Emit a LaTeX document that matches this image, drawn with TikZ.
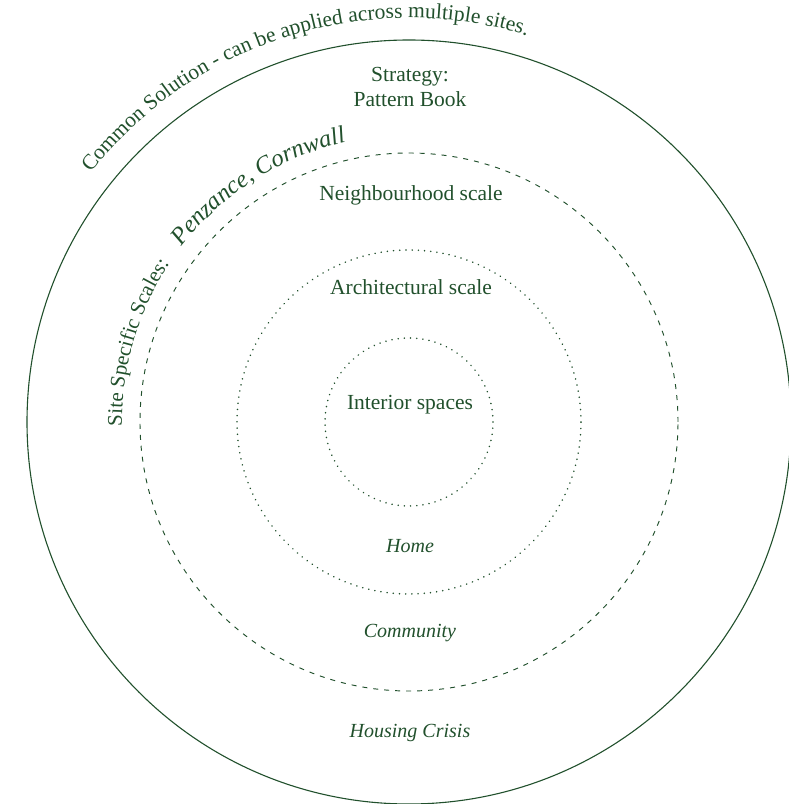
\documentclass[tikz,border=0pt]{standalone}
\usepackage{fontspec}
\setmainfont{Liberation Serif}
\usetikzlibrary{decorations.text}
\definecolor{dg}{RGB}{33,80,44}
\begin{document}
\begin{tikzpicture}[x=1pt,y=1pt,
  ring/.style={circle, draw=dg, inner sep=0pt, outer sep=0pt},
  solidring/.style={ring, line width=1.1pt},
  dashring/.style={ring, line width=0.95pt, dash pattern=on 5pt off 6pt},
  dotring/.style={ring, line width=1.7pt, line cap=round, dash pattern=on 0.01pt off 6.2pt},
  lbl/.style={anchor=base, text=dg, inner sep=0pt, font=\fontsize{21.5}{25}\selectfont},
  ilbl/.style={anchor=base, text=dg, inner sep=0pt, font=\fontsize{20}{24}\selectfont\itshape}
]
\useasboundingbox (0,0) rectangle (789,804);
\coordinate (c) at (409,382);

\node[solidring, minimum size=764pt] (outer) at (c) {};
\node[dashring, minimum size=538pt] (site) at (c) {};
\node[dotring, minimum size=344pt] (arch) at (c) {};
\node[dotring, minimum size=168pt] (inner) at (c) {};

\node[lbl] (strat1) at (410,722) {Strategy:};
\node[lbl] (strat2) at (410,697) {Pattern Book};
\node[lbl] (neigh) at (411,603) {Neighbourhood scale};
\node[lbl] (archl) at (411,509) {Architectural scale};
\node[lbl] (interior) at (410,394) {Interior spaces};
\node[ilbl] (home) at (410,251) {Home};
\node[ilbl] (community) at (410,166) {Community};
\node[ilbl] (crisis) at (410,66) {Housing Crisis};

\path[decorate, decoration={text along path, text align=center,
  text={|\fontsize{21.5}{25}\selectfont\color{dg}|Common Solution - can be applied across multiple sites.}}]
  ([shift={(152:404)}]c) arc[start angle=152, end angle=63, radius=404];

\path[decorate, decoration={text along path, text align=center,
  text={|\fontsize{21}{25}\selectfont\color{dg}|Site Specific Scales:}}]
  ([shift={(193:287)}]c) arc[start angle=193, end angle=134.4, radius=287];

\path[decorate, decoration={text along path, text align=center,
  text={|\fontsize{24.5}{28}\selectfont\itshape\color{dg}|Penzance, Cornwall}}]
  ([shift={(152:287)}]c) arc[start angle=152, end angle=93, radius=287];
\end{tikzpicture}
\end{document}
